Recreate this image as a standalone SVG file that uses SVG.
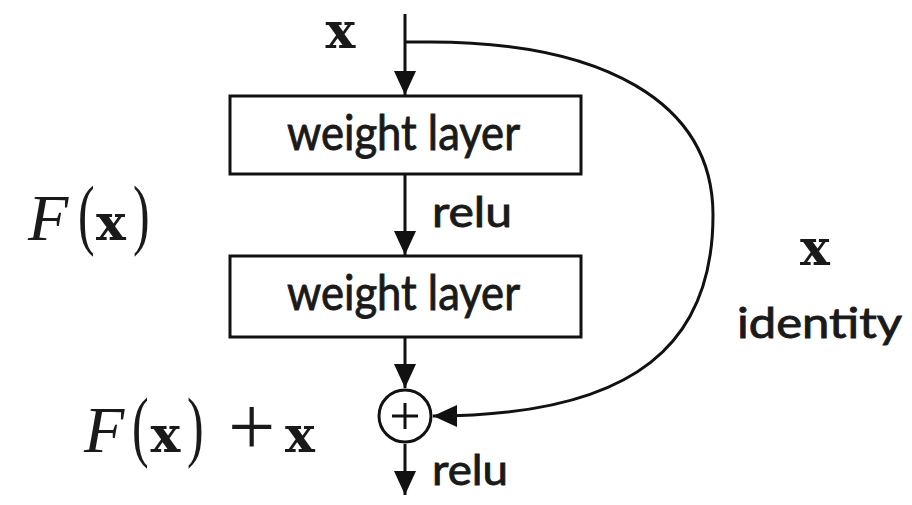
<svg xmlns="http://www.w3.org/2000/svg" width="912" height="505" viewBox="0 0 912 505">
<style>
  .box { fill: #fff; stroke: #111; stroke-width: 3; }
  .conn { fill: none; stroke: #111; stroke-width: 3; }
  .lbl { font-family: Lato, "Open Sans", "Liberation Sans", sans-serif; fill: #1a1a1a; stroke: #1a1a1a; stroke-width: 0.9; }
  .bx { font-family: "DejaVu Serif", "Liberation Serif", serif; font-weight: bold; font-size: 50px; fill: #1a1a1a; }
  .cal { font-family: "Liberation Serif", serif; font-style: italic; font-size: 66px; fill: #1a1a1a; }
  .par { font-family: "Liberation Serif", serif; font-size: 78px; fill: #1a1a1a; }
  .plus { font-family: "Liberation Serif", serif; font-size: 84px; fill: #1a1a1a; }
</style>
<defs>
  <marker id="arrow" markerUnits="userSpaceOnUse" markerWidth="24" markerHeight="22" refX="24" refY="11" orient="auto">
    <path d="M0,0 L24,11 L0,22 z" fill="#111"/>
  </marker>
</defs>
<rect width="912" height="505" fill="#fff"/>

<g id="connectors">
  <path class="conn" d="M405,14 L405,95" marker-end="url(#arrow)"/>
  <path class="conn" d="M405,174 L405,255" marker-end="url(#arrow)"/>
  <path class="conn" d="M405,337 L405,388" marker-end="url(#arrow)"/>
  <path class="conn" d="M405,444 L405,495" marker-end="url(#arrow)"/>
  <path class="conn" d="M405,42 L430,42 C600,42 713,100 713,215 C713,340 640,416 433,416" marker-end="url(#arrow)"/>
</g>

<g id="node-input">
  <text class="bx" x="340.5" y="48" text-anchor="middle">x</text>
</g>

<g id="node-weight1">
  <rect class="box" x="230" y="96" width="351" height="78"/>
  <text class="lbl" x="287" y="150" font-size="49" textLength="233" lengthAdjust="spacingAndGlyphs">weight layer</text>
</g>

<g id="label-relu1">
  <text class="lbl" x="432" y="227" font-size="43" textLength="80" lengthAdjust="spacingAndGlyphs">relu</text>
</g>

<g id="node-weight2">
  <rect class="box" x="230" y="256" width="351" height="81"/>
  <text class="lbl" x="287" y="310" font-size="49" textLength="233" lengthAdjust="spacingAndGlyphs">weight layer</text>
</g>

<g id="node-sum">
  <circle class="box" cx="405" cy="416" r="26"/>
  <path class="conn" d="M392,416 L418,416 M405,403 L405,429" stroke-width="2.5"/>
</g>

<g id="label-relu2">
  <text class="lbl" x="432" y="485" font-size="43" textLength="76" lengthAdjust="spacingAndGlyphs">relu</text>
</g>

<g id="label-identity">
  <text class="bx" x="815" y="265" text-anchor="middle">x</text>
  <text class="lbl" x="737" y="338" font-size="43" textLength="165" lengthAdjust="spacingAndGlyphs">identity</text>
</g>

<g id="label-Fx">
  <text class="cal" x="28" y="240">F</text>
  <text class="par" transform="translate(78,240) scale(0.64,1)">(</text>
  <text class="bx" x="96" y="240">x</text>
  <text class="par" transform="translate(133,240) scale(0.64,1)">)</text>
</g>

<g id="label-Fx-plus-x">
  <text class="cal" x="84" y="452">F</text>
  <text class="par" transform="translate(132,452) scale(0.64,1)">(</text>
  <text class="bx" x="150.5" y="452">x</text>
  <text class="par" transform="translate(187,452) scale(0.64,1)">)</text>
  <text class="plus" x="228" y="455">+</text>
  <text class="bx" x="285" y="452">x</text>
</g>
</svg>
